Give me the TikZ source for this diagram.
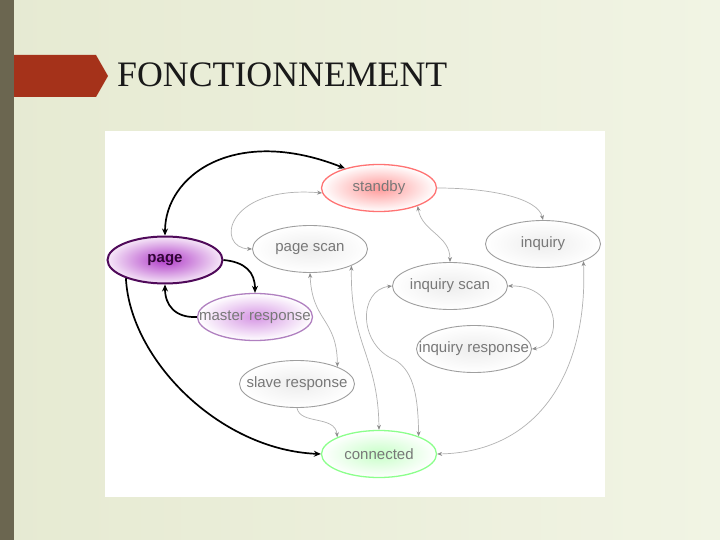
\documentclass[tikz,border=0pt]{standalone}
\usepackage{fontspec}
\setmainfont{Liberation Serif}
\newfontfamily\lsans{Liberation Sans}
\usetikzlibrary{shapes.geometric,arrows.meta}
\definecolor{bgL}{HTML}{E6EAD2}
\definecolor{bgR}{HTML}{F1F4E4}
\definecolor{strip}{HTML}{6B6650}
\definecolor{banner}{HTML}{A5321A}
\definecolor{txtgray}{HTML}{787878}
\newcommand{\nolab}[1]{\makebox[0pt][c]{#1}}
\tikzset{
  st/.style={ellipse, minimum width=115pt, minimum height=47pt, inner sep=0pt,
    font=\lsans\fontsize{15}{15}\selectfont, text=txtgray},
  graynode/.style={st, draw=gray!75, line width=0.9pt, inner color=gray!14, outer color=white},
  gedge/.style={draw=gray!60, line width=0.7pt, >={Stealth[length=5pt,width=4pt,color=gray!90]}},
  bedge/.style={draw=black, line width=1.7pt, >={Stealth[length=7pt,width=6pt]}},
}
\begin{document}
\begin{tikzpicture}[x=1pt,y=-1pt]
\path[use as bounding box] (0,0) rectangle (720,540);
\shade[left color=bgL, right color=bgR] (0,0) rectangle (720,540);
\fill[banner] (0,55) -- (96,55) -- (108,76) -- (96,97) -- (0,97) -- cycle;
\fill[strip] (0,0) rectangle (14,540);
\node[anchor=base west, inner sep=0pt, text={rgb,255:red,25;green,25;blue,25}, font=\fontsize{35.8}{35.8}\selectfont] (title) at (117,87) {FONCTIONNEMENT};
\fill[white] (105,131) rectangle (605,497);

\node[st, draw=red!55, line width=1.3pt, inner color=red!40, outer color=white] (standby) at (379,188) {\nolab{standby}};
\node[graynode] (pagescan) at (310,249) {\nolab{page scan}};
\node[graynode] (inquiry) at (543,244) {\nolab{inquiry}};
\node[st, draw={rgb,255:red,80;green,10;blue,90}, line width=2pt, inner color={rgb,255:red,176;green,60;blue,200}, outer color={rgb,255:red,246;green,232;blue,248}, text={rgb,255:red,50;green,5;blue,55}, font=\lsans\bfseries\fontsize{15}{15}\selectfont] (page) at (165,260) {\nolab{page}};
\node[graynode] (inqscan) at (450,286) {\nolab{inquiry scan}};
\node[st, draw={rgb,255:red,176;green,128;blue,192}, line width=1.3pt, inner color={rgb,255:red,214;green,150;blue,228}, outer color=white] (master) at (255,317) {\nolab{master response}};
\node[graynode] (inqresp) at (474,349) {\nolab{inquiry response}};
\node[graynode] (slave) at (297,384) {\nolab{slave response}};
\node[st, draw=green!45, line width=1.3pt, inner color=green!22, outer color=white] (connected) at (379,454) {\nolab{connected}};

% black edges
\draw[bedge,<->] (page.north) .. controls (165,175) and (235,125) .. (standby.150);
\draw[bedge,->] (page.east) .. controls (245,262) and (255,272) .. (master.north);
\draw[bedge,->] (master.west) .. controls (175,318) and (165,305) .. (page.south);
\draw[bedge,->] (page.205) .. controls (130,360) and (220,450) .. (connected.west);

% gray edges
\draw[gedge,<->] (standby.185) .. controls (225,185) and (215,248) .. (pagescan.west);
\draw[gedge,->] (standby.east) .. controls (490,188) and (538,198) .. (inquiry.north);
\draw[gedge,<->] (standby.-25) .. controls (422,232) and (450,235) .. (inqscan.north);
\draw[gedge,<->] (pagescan.south) .. controls (312,322) and (337,318) .. (slave.23);
\draw[gedge,<->] (pagescan.-22) .. controls (350,345) and (378,355) .. (connected.north);
\draw[gedge,<->] (inqscan.west) .. controls (358,290) and (358,345) .. (395,360) .. controls (415,372) and (418,400) .. (connected.24);
\draw[gedge,<->] (inqscan.east) .. controls (560,285) and (565,345) .. (inqresp.east);
\draw[gedge,<->] (inquiry.-23) .. controls (588,370) and (540,452) .. (connected.east);
\draw[gedge,->] (slave.south) .. controls (300,425) and (335,415) .. (connected.158);
\end{tikzpicture}
\end{document}
